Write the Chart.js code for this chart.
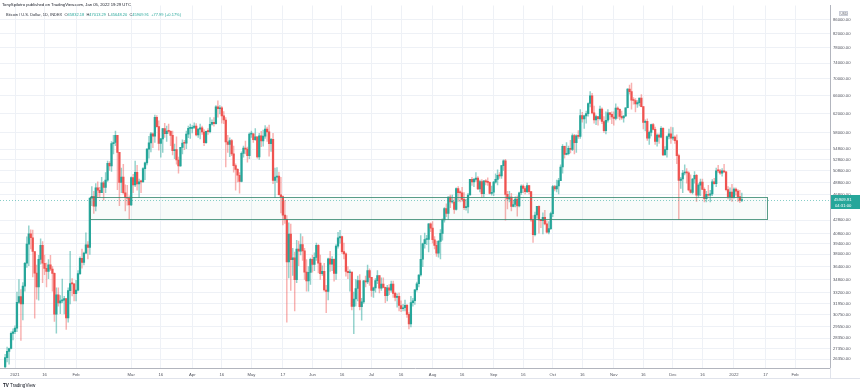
<!DOCTYPE html>
<html>
<head>
<meta charset="utf-8">
<title>Bitcoin / U.S. Dollar, 1D</title>
<script src="https://cdn.jsdelivr.net/npm/chart.js@4.4.1/dist/chart.umd.min.js"></script>
<style>
  html, body { margin: 0; padding: 0; background: #ffffff; }
  #wrap { position: relative; width: 860px; height: 391px; }
  canvas { display: block; }
</style>
</head>
<body>
<div id="wrap"><canvas id="btcChart" width="860" height="391"></canvas></div>
<script>
// day 0 = Jan 1, 2021; first candle is Dec 27, 2020
const firstDay = -5;

// Daily OHLC, Dec 27 2020 .. Jan 05 2022 (USD)
const opens = [
  25650, 26500, 27080, 27360, 28840,
  29000, 29370, 32130, 32780, 31970, 34000, 36820, 39370, 40800, 40250, 38360, 35570, 33920, 37320, 39190, 36830, 36180, 35790, 36630, 36070, 35550, 30830, 33000, 32070, 32290, 32370, 32570, 30430, 33470, 34320, 34270,
  33110, 33540, 35510, 37470, 36930, 38140, 39270, 38900, 46200, 46480, 44920, 47910, 47500, 47100, 48720, 47950, 49200, 52150, 51680, 55890, 56100, 57540, 54210, 48830, 49710, 47090, 46340, 46190,
  45140, 49630, 48380, 50540, 48560, 48930, 48910, 51210, 52250, 54820, 56010, 57810, 57330, 61240, 59300, 55910, 56800, 58870, 57860, 58350, 58310, 57520, 54530, 54740, 52770, 51710, 55140, 55970, 55950, 57750, 58920,
  58920, 59100, 59380, 57600, 58760, 59060, 58190, 56050, 58320, 58250, 59790, 60200, 59890, 63500, 63110, 63310, 61570, 60680, 56220, 55720, 56470, 53910, 51760, 51090, 50050, 49000, 54020, 55030, 54820, 53560,
  57750, 57830, 56630, 57200, 53330, 57420, 56400, 57360, 58800, 58230, 55860, 56700, 49150, 49720, 49880, 46760, 46460, 43540, 42910, 37000, 40780, 37300, 37540, 34770, 38700, 38400, 39290, 38440, 35700, 34620, 35680,
  37330, 36680, 37580, 39190, 36850, 35520, 35800, 33550, 33380, 37390, 36700, 37330, 35550, 39100, 40220, 40410, 38350, 38050, 35790, 35620, 35700, 31680, 32510, 33720, 34660, 31640, 32190, 34650, 34490, 35910,
  35050, 33500, 33790, 34670, 35290, 33750, 34240, 33860, 32880, 33800, 33520, 34240, 33160, 32700, 32820, 31780, 31420, 31530, 31800, 30820, 29810, 32110, 32310, 33580, 34290, 35350, 37340, 39410, 40000, 40010, 42240,
  41630, 39970, 39200, 38150, 39750, 40870, 42820, 44560, 43800, 46370, 45590, 45590, 44430, 47790, 47100, 47050, 46000, 44700, 44800, 46720, 49340, 48910, 49320, 49550, 47710, 48960, 46940, 49060, 48900, 48810, 46990,
  47170, 48850, 49330, 50030, 49940, 51750, 52630, 46810, 46090, 46390, 44880, 45200, 46060, 44960, 47090, 48180, 47780, 47270, 48280, 47260, 42840, 40690, 43570, 44900, 42840, 42720, 43210, 42240, 41030, 41560,
  43790, 48120, 47710, 48200, 49110, 51510, 55360, 53810, 53970, 54970, 54770, 57480, 56040, 57400, 57320, 61590, 60890, 61550, 62030, 64260, 65990, 62210, 60690, 61390, 60930, 63040, 60360, 58480, 60620, 62230, 61890,
  61320, 61000, 63230, 62970, 61450, 61130, 61530, 63330, 67570, 66970, 65000, 64950, 64160, 64470, 65470, 63560, 60160, 60370, 56940, 58120, 59700, 58730, 56290, 57570, 57170, 58960, 53730, 54720, 57280, 57810,
  56950, 57180, 56480, 53600, 49150, 49400, 50440, 50590, 50470, 47550, 47140, 49390, 50050, 46700, 48340, 48860, 47630, 46130, 46830, 46680, 46910, 48900, 48590, 50840, 50820, 50430, 50810, 50640, 47590, 46440, 47180,
  46310, 47690, 47350, 46460, 45832.18
];
const highs = [
  26800, 27500, 27400, 28990, 29300,
  29600, 33300, 34780, 33600, 34440, 36940, 40360, 41950, 41380, 41350, 38360, 36600, 37850, 40100, 39700, 37900, 36850, 37300, 37850, 36400, 35600, 33800, 33800, 32900, 34850, 32800, 32570, 33800, 38400, 34900, 34300,
  34700, 35900, 37650, 38700, 38300, 40950, 39700, 46200, 48100, 47300, 48600, 48900, 48000, 49700, 49000, 50500, 52600, 52500, 56300, 57500, 58350, 57540, 54200, 51300, 52000, 48400, 48300, 46600,
  49780, 50200, 52600, 51800, 49400, 49200, 51400, 52400, 54900, 57300, 58100, 58000, 61700, 61600, 60500, 56900, 58900, 60000, 59400, 59800, 58500, 58400, 55800, 57200, 53300, 55100, 56600, 56500, 58400, 59400, 59800,
  59500, 60100, 59900, 58900, 59800, 59400, 58700, 58400, 58900, 61200, 60700, 61200, 63800, 64860, 63800, 63600, 62500, 61200, 57500, 57000, 56700, 55400, 52100, 51200, 50500, 54300, 55400, 56400, 55200, 58000,
  58400, 57900, 58900, 57200, 57900, 58300, 58600, 59500, 59200, 59600, 56900, 57900, 51300, 51400, 50600, 49700, 46600, 45800, 43500, 42400, 42200, 38800, 38300, 39900, 39800, 40800, 40400, 38800, 37300, 36400, 37500,
  37900, 38200, 39500, 39300, 37900, 36500, 36800, 34100, 37500, 38400, 37700, 37400, 39300, 41000, 41300, 40500, 39500, 38200, 36400, 36000, 35700, 33300, 34800, 35200, 35400, 32600, 34700, 35200, 36600, 36100,
  35050, 33900, 34900, 35900, 35300, 35000, 35000, 33900, 34100, 34200, 34600, 34600, 33300, 33100, 33200, 32300, 31900, 32400, 31900, 31000, 32800, 32600, 33600, 34500, 35400, 40550, 39500, 40900, 40600, 42300, 42400,
  42600, 40400, 39800, 39900, 41400, 43000, 44700, 45300, 46400, 46700, 46700, 46200, 47900, 48100, 47400, 48000, 47100, 46000, 47000, 49300, 49700, 49500, 50500, 49800, 49200, 49300, 49100, 49300, 49600, 48900, 48200,
  49000, 50300, 51000, 50500, 51800, 52800, 52900, 47300, 47300, 47000, 45900, 46400, 46600, 47200, 48400, 48400, 48100, 48700, 48300, 47300, 43500, 44000, 44900, 45000, 42900, 43900, 44300, 42700, 42600, 44000,
  48300, 48300, 49200, 49500, 51900, 55700, 55400, 56100, 55400, 56500, 57800, 57700, 57600, 58500, 62900, 62300, 61700, 62600, 64400, 67000, 66600, 63700, 61700, 61400, 63700, 63300, 61400, 62400, 62900, 62300, 62400,
  62400, 64200, 63500, 63100, 62600, 61600, 63300, 67700, 68500, 69000, 65600, 65400, 64900, 65500, 66300, 63600, 60700, 60900, 58400, 59800, 60000, 59200, 57800, 57800, 59300, 59100, 55300, 57400, 58800, 59200,
  59100, 57400, 57600, 53900, 49700, 50900, 51900, 51200, 50700, 50100, 49500, 50700, 50200, 48600, 49400, 49400, 47900, 47300, 48300, 47500, 49300, 49500, 51300, 51800, 51100, 51200, 52000, 50700, 48100, 47900, 48500,
  47900, 47900, 47600, 47500, 47013.29
];
const lows = [
  25560, 26100, 25900, 27320, 28200,
  28800, 29000, 32000, 28130, 30220, 33400, 36300, 36500, 38720, 35100, 30420, 32500, 32380, 36700, 34400, 35400, 33900, 34900, 35900, 33400, 30070, 28850, 31700, 30900, 32100, 30850, 29240, 30000, 31950, 32850, 32300,
  32300, 33450, 35400, 36200, 36600, 38100, 37400, 37990, 45000, 43800, 44200, 46300, 46400, 47100, 45900, 47100, 49000, 50900, 50700, 53900, 55500, 47600, 45000, 47100, 46900, 44200, 45100, 43000,
  45000, 47100, 48100, 47500, 46300, 47100, 48900, 49300, 51900, 53100, 54300, 55100, 56100, 59200, 54600, 53300, 54200, 57100, 56300, 57900, 55500, 53700, 53000, 52000, 50400, 51600, 53900, 54700, 54900, 57050, 56900,
  58000, 58900, 57400, 57100, 56800, 57700, 55500, 55900, 57700, 58000, 59600, 59400, 59800, 61300, 62000, 60000, 59900, 51500, 54200, 53400, 53600, 50600, 47500, 48900, 47000, 48900, 53300, 53900, 52400, 53000,
  57100, 56100, 56500, 53100, 52900, 55300, 55400, 56900, 56300, 53500, 54400, 48600, 46300, 48800, 46700, 43900, 42100, 42300, 30000, 35000, 33500, 35300, 31200, 34400, 36500, 37900, 37200, 34800, 33400, 33400, 34200,
  35700, 35900, 37200, 35600, 34800, 35300, 33400, 31000, 32400, 35800, 35900, 34600, 34800, 38800, 39500, 38100, 37400, 35200, 34900, 33400, 31300, 28800, 31700, 32300, 31300, 30200, 32000, 33900, 34300, 34100,
  32800, 32700, 33300, 34300, 33200, 33500, 33800, 32100, 32300, 33000, 33300, 32700, 32300, 31600, 31200, 31100, 31200, 31200, 30500, 29300, 29500, 31700, 31900, 33400, 33900, 35200, 36400, 38800, 39300, 38300, 41100,
  39500, 38700, 37700, 37600, 37400, 39900, 42500, 43300, 42900, 44700, 45400, 43800, 44300, 45700, 45600, 45700, 44400, 44300, 43900, 46700, 48300, 48100, 49000, 47600, 47200, 46300, 46400, 48400, 48300, 46900, 46700,
  46600, 48700, 48400, 49500, 49500, 50900, 42800, 44500, 45600, 44200, 44800, 44800, 43400, 44800, 46800, 47100, 46900, 47100, 46900, 42600, 39600, 40500, 43100, 40900, 41700, 40800, 42100, 40900, 40800, 41400,
  43300, 47400, 47200, 46900, 49100, 50400, 53100, 53700, 53700, 54100, 54500, 53900, 54200, 56900, 56900, 60200, 58900, 60000, 61500, 63500, 62000, 60000, 59700, 59600, 60700, 59900, 58100, 57800, 60200, 60800, 59900,
  59600, 60700, 61000, 60700, 60800, 60200, 61400, 63300, 66400, 63000, 64100, 62400, 63400, 63700, 63500, 58800, 58400, 56500, 55700, 57400, 58600, 55700, 55400, 55900, 57000, 53600, 53700, 53300, 56800, 55900,
  56600, 55900, 52100, 42900, 47800, 47100, 50100, 48700, 47400, 47000, 46900, 48700, 45700, 46300, 46600, 47600, 45600, 45600, 46500, 45600, 46600, 48500, 48100, 50500, 50200, 49900, 50500, 47400, 46100, 45900, 45700,
  46200, 46700, 45700, 45500, 45648.20
];
const closes = [
  26500, 27080, 27360, 28840, 29000,
  29370, 32130, 32780, 31970, 34000, 36820, 39370, 40800, 40250, 38360, 35570, 33920, 37320, 39190, 36830, 36180, 35790, 36630, 36070, 35550, 30830, 33000, 32070, 32290, 32370, 32570, 30430, 33470, 34320, 34270, 33110,
  33540, 35510, 37470, 36930, 38140, 39270, 38900, 46200, 46480, 44920, 47910, 47500, 47100, 48720, 47950, 49200, 52150, 51680, 55890, 56100, 57540, 54210, 48830, 49710, 47090, 46340, 46190, 45140,
  49630, 48380, 50540, 48560, 48930, 48910, 51210, 52250, 54820, 56010, 57810, 57330, 61240, 59300, 55910, 56800, 58870, 57860, 58350, 58310, 57520, 54530, 54740, 52770, 51710, 55140, 55970, 55950, 57750, 58920, 58920,
  59100, 59380, 57600, 58760, 59060, 58190, 56050, 58320, 58250, 59790, 60200, 59890, 63500, 63110, 63310, 61570, 60680, 56220, 55720, 56470, 53910, 51760, 51090, 50050, 49000, 54020, 55030, 54820, 53560, 57750,
  57830, 56630, 57200, 53330, 57420, 56400, 57360, 58800, 58230, 55860, 56700, 49150, 49720, 49880, 46760, 46460, 43540, 42910, 37000, 40780, 37300, 37540, 34770, 38700, 38400, 39290, 38440, 35700, 34620, 35680, 37330,
  36680, 37580, 39190, 36850, 35520, 35800, 33550, 33380, 37390, 36700, 37330, 35550, 39100, 40220, 40410, 38350, 38050, 35790, 35620, 35700, 31680, 32510, 33720, 34660, 31640, 32190, 34650, 34490, 35910, 35050,
  33500, 33790, 34670, 35290, 33750, 34240, 33860, 32880, 33800, 33520, 34240, 33160, 32700, 32820, 31780, 31420, 31530, 31800, 30820, 29810, 32110, 32310, 33580, 34290, 35350, 37340, 39410, 40000, 40010, 42240, 41630,
  39970, 39200, 38150, 39750, 40870, 42820, 44560, 43800, 46370, 45590, 45590, 44430, 47790, 47100, 47050, 46000, 44700, 44800, 46720, 49340, 48910, 49320, 49550, 47710, 48960, 46940, 49060, 48900, 48810, 46990, 47170,
  48850, 49330, 50030, 49940, 51750, 52630, 46810, 46090, 46390, 44880, 45200, 46060, 44960, 47090, 48180, 47780, 47270, 48280, 47260, 42840, 40690, 43570, 44900, 42840, 42720, 43210, 42240, 41030, 41560, 43790,
  48120, 47710, 48200, 49110, 51510, 55360, 53810, 53970, 54970, 54770, 57480, 56040, 57400, 57320, 61590, 60890, 61550, 62030, 64260, 65990, 62210, 60690, 61390, 60930, 63040, 60360, 58480, 60620, 62230, 61890, 61320,
  61000, 63230, 62970, 61450, 61130, 61530, 63330, 67570, 66970, 65000, 64950, 64160, 64470, 65470, 63560, 60160, 60370, 56940, 58120, 59700, 58730, 56290, 57570, 57170, 58960, 53730, 54720, 57280, 57810, 56950,
  57180, 56480, 53600, 49150, 49400, 50440, 50590, 50470, 47550, 47140, 49390, 50050, 46700, 48340, 48860, 47630, 46130, 46830, 46680, 46910, 48900, 48590, 50840, 50820, 50430, 50810, 50640, 47590, 46440, 47180, 46310,
  47690, 47350, 46460, 45832.18, 45909.91
];

// axis ticks
const xTickDays = [0, 15, 31, 59, 74, 90, 105, 120, 136, 151, 166, 181, 196, 212, 227, 243, 258, 273, 288, 304, 319, 334, 349, 365, 381, 396];
const xTickLabels = ['2021', '16', 'Feb', 'Mar', '16', 'Apr', '16', 'May', '17', 'Jun', '16', 'Jul', '16', 'Aug', '16', 'Sep', '16', 'Oct', '16', 'Nov', '16', 'Dec', '16', '2022', '17', 'Feb'];
const yTicks = [86000, 82000, 78000, 74000, 70000, 66000, 62000, 58000, 54800, 52800, 50800, 48800, 46800, 42800, 40800, 39400, 38000, 36400, 34800, 33200, 31950, 30750, 29550, 28350, 27350, 26350];

// support zone drawn on the chart
const zoneStart = 38;     // Feb 8, 2021
const zoneEnd = 382;      // Jan 18, 2022
const zoneTop = 46470;
const zoneBottom = 42900;

const UP = '#26a69a';
const DOWN = '#ef5350';
const FONT = '"Liberation Sans", Arial, sans-serif';

const days = closes.map((c, i) => firstDay + i);
const isUp = i => closes[i] >= opens[i];

const bodyData = days.map((d, i) => ({ x: d, y: [opens[i], closes[i]] }));
const wickData = days.map((d, i) => ({ x: d, y: [lows[i], highs[i]] }));

const overlay = {
  id: 'overlay',
  afterDatasetsDraw(chart) {
    const { ctx, chartArea: a, scales: { x, y } } = chart;
    ctx.save();
    // support zone
    const zl = Math.round(x.getPixelForValue(zoneStart)) + 0.5;
    const zr = Math.round(x.getPixelForValue(zoneEnd)) + 0.5;
    const zt = Math.round(y.getPixelForValue(zoneTop)) + 0.5;
    const zb = Math.round(y.getPixelForValue(zoneBottom)) + 0.5;
    ctx.fillStyle = 'rgba(70,150,125,0.04)';
    ctx.fillRect(zl, zt, zr - zl, zb - zt);
    ctx.strokeStyle = 'rgba(60,140,115,0.85)';
    ctx.lineWidth = 1;
    ctx.strokeRect(zl, zt, zr - zl, zb - zt);
    // last price line
    const last = closes[closes.length - 1];
    const py = Math.round(y.getPixelForValue(last)) + 0.5;
    ctx.setLineDash([1, 2]);
    ctx.strokeStyle = 'rgba(38,166,154,0.55)';
    ctx.beginPath();
    ctx.moveTo(a.left, py);
    ctx.lineTo(a.right, py);
    ctx.stroke();
    ctx.restore();
  },
  afterDraw(chart) {
    const { ctx, chartArea: a, scales: { y } } = chart;
    ctx.save();
    // lower frame line under the time labels
    ctx.strokeStyle = '#e0e3eb';
    ctx.lineWidth = 1;
    ctx.beginPath();
    ctx.moveTo(0, 378.5);
    ctx.lineTo(860, 378.5);
    ctx.moveTo(a.right + 0.5, a.bottom);
    ctx.lineTo(a.right + 0.5, 378.5);
    ctx.stroke();

    // last price tag
    const last = closes[closes.length - 1];
    const py = y.getPixelForValue(last);
    ctx.fillStyle = UP;
    ctx.fillRect(a.right + 1, py - 5, 29, 14);
    ctx.fillStyle = '#ffffff';
    ctx.font = '4.2px ' + FONT;
    ctx.textBaseline = 'middle';
    ctx.textAlign = 'left';
    ctx.fillText(last.toFixed(2), a.right + 4, py);
    ctx.fillText('04:31:00', a.right + 5, py + 5.5);

    // currency box at the top of the price scale
    ctx.fillStyle = '#ffffff';
    ctx.fillRect(a.right + 9, 11, 9, 5);
    ctx.strokeStyle = '#c9ccd6';
    ctx.strokeRect(a.right + 9.5, 11.5, 8, 4);
    ctx.fillStyle = '#50535e';
    ctx.font = '3.2px ' + FONT;
    ctx.fillText('USD', a.right + 10.5, 13.8);

    // header
    ctx.font = '4.2px ' + FONT;
    ctx.fillStyle = '#131722';
    ctx.fillText('TonySpilotro published on TradingView.com, Jan 05, 2022 19:29 UTC', 2, 5);
    const parts = [
      ['Bitcoin / U.S. Dollar, 1D, INDEX  ', '#2a2e39'],
      ['O', '#2a2e39'], ['45832.18', UP],
      ['  H', '#2a2e39'], ['47013.29', UP],
      ['  L', '#2a2e39'], ['45648.20', UP],
      ['  C', '#2a2e39'], ['45909.91', UP],
      ['  +77.99 (+0.17%)', UP]
    ];
    ctx.font = '4px ' + FONT;
    let tx = 6;
    parts.forEach(([t, c]) => {
      ctx.fillStyle = c;
      ctx.fillText(t, tx, 14.5);
      tx += ctx.measureText(t).width;
    });

    // logo
    ctx.fillStyle = '#131722';
    ctx.font = 'bold 4.6px ' + FONT;
    ctx.fillText('TV', 3, 385.5);
    ctx.font = '4.6px ' + FONT;
    ctx.fillText('TradingView', 10, 385.5);
    ctx.restore();
  }
};

const ctx = document.getElementById('btcChart').getContext('2d');
new Chart(ctx, {
  type: 'bar',
  data: {
    datasets: [
      {
        label: 'body',
        data: bodyData,
        grouped: false,
        barThickness: 1.6,
        minBarLength: 1,
        borderWidth: 0,
        backgroundColor: c => isUp(c.dataIndex) ? UP : DOWN
      },
      {
        label: 'wick',
        data: wickData,
        grouped: false,
        barThickness: 0.8,
        borderWidth: 0,
        backgroundColor: c => isUp(c.dataIndex) ? 'rgba(38,166,154,0.5)' : 'rgba(239,83,80,0.45)'
      }
    ]
  },
  options: {
    responsive: false,
    maintainAspectRatio: false,
    devicePixelRatio: 1,
    animation: false,
    events: [],
    layout: { padding: 0, autoPadding: false },
    plugins: { legend: { display: false }, tooltip: { enabled: false } },
    scales: {
      x: {
        type: 'linear',
        offset: false,
        bounds: 'data',
        min: -15 / 1.9697,
        max: (830 - 15) / 1.9697,
        afterBuildTicks: axis => { axis.ticks = xTickDays.map(v => ({ value: v })); },
        afterFit: axis => { axis.height = 23; },
        ticks: {
          autoSkip: false,
          maxRotation: 0,
          padding: 4,
          color: '#50535e',
          font: { size: 4.2, family: FONT },
          callback: v => xTickLabels[xTickDays.indexOf(v)] ?? ''
        },
        grid: { color: '#eef1f6', drawTicks: false, offset: false },
        border: { display: true, color: '#b2b5be' }
      },
      y: {
        type: 'logarithmic',
        position: 'right',
        bounds: 'data',
        min: 25560,
        max: 90430,
        afterBuildTicks: axis => { axis.ticks = yTicks.map(v => ({ value: v })); },
        afterFit: axis => { axis.width = 30; },
        ticks: {
          autoSkip: false,
          padding: 3,
          color: '#50535e',
          font: { size: 4.2, family: FONT },
          callback: v => Number(v).toFixed(2)
        },
        grid: { color: '#eef1f6', drawTicks: false },
        border: { display: true, color: '#b2b5be' }
      }
    }
  },
  plugins: [overlay]
});
</script>
</body>
</html>
